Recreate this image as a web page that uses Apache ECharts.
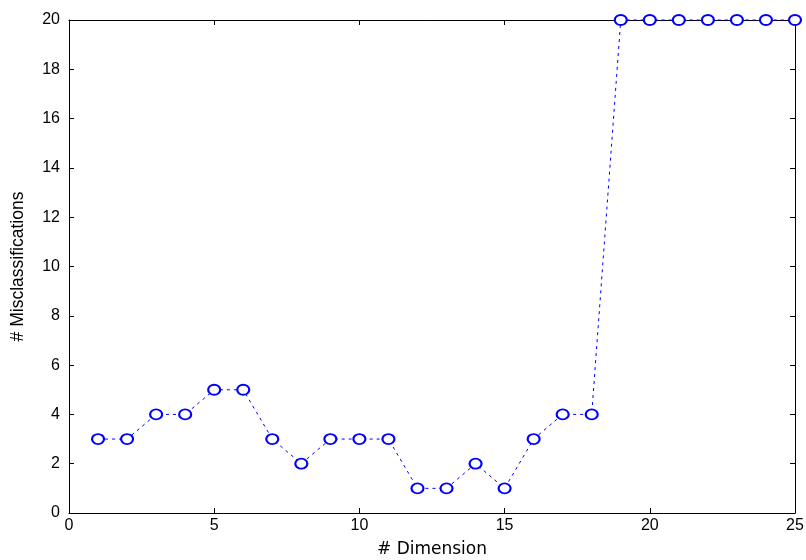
<!DOCTYPE html>
<html>
<head>
<meta charset="utf-8">
<script src="https://cdn.jsdelivr.net/npm/echarts@6/dist/echarts.min.js"></script>
<style>
  html, body { margin: 0; padding: 0; background: #fff; }
  #chart { width: 806px; height: 560px; }
</style>
</head>
<body>
<div id="chart"></div>
<script>
let dims = [1, 2, 3, 4, 5, 6, 7, 8, 9, 10, 11, 12, 13, 14, 15, 16, 17, 18, 19, 20, 21, 22, 23, 24, 25];
let errors = [3, 3, 4, 4, 5, 5, 3, 2, 3, 3, 3, 1, 1, 2, 1, 3, 4, 4, 20, 20, 20, 20, 20, 20, 20];

let font = 'Liberation Sans';
let axisLine = { show: true, onZero: false, lineStyle: { color: '#000', width: 1 } };
let axisTick = { show: true, inside: true, length: 5, lineStyle: { color: '#000' } };

let option = {
    animation: false,
    backgroundColor: '#fff',
    grid: { left: 69, right: 11, top: 20, bottom: 47, outerBoundsMode: 'none' },
    xAxis: [
        {
            type: 'value', min: 0, max: 25, interval: 5,
            axisLine: axisLine, axisTick: axisTick, splitLine: { show: false },
            axisLabel: { color: '#000', fontFamily: font, fontSize: 16, margin: 5 },
            name: '# Dimension', nameLocation: 'middle', nameGap: 28,
            nameTextStyle: { color: '#000', fontFamily: 'DejaVu Sans', fontSize: 17 }
        },
        {
            type: 'value', position: 'top', min: 0, max: 25, interval: 5,
            axisLine: axisLine, axisTick: axisTick, splitLine: { show: false },
            axisLabel: { show: false }
        }
    ],
    yAxis: [
        {
            type: 'value', min: 0, max: 20, interval: 2,
            axisLine: axisLine, axisTick: axisTick, splitLine: { show: false },
            axisLabel: { color: '#000', fontFamily: font, fontSize: 16, margin: 9 },
            name: '# Misclassifications', nameLocation: 'middle', nameGap: 42,
            nameTextStyle: { color: '#000', fontFamily: font, fontSize: 17.5 }
        },
        {
            type: 'value', position: 'right', min: 0, max: 20, interval: 2,
            axisLine: axisLine, axisTick: axisTick, splitLine: { show: false },
            axisLabel: { show: false }
        }
    ],
    series: [{
        type: 'line',
        data: dims.map((d, i) => [d, errors[i]]),
        symbol: 'emptyCircle',
        symbolSize: [12, 10],
        clip: false,
        lineStyle: { color: '#0000ff', width: 1, type: [3, 4] },
        itemStyle: { color: '#0000ff', borderColor: '#0000ff', borderWidth: 1 }
    }]
};
echarts.init(document.getElementById('chart')).setOption(option);
</script>
</body>
</html>
